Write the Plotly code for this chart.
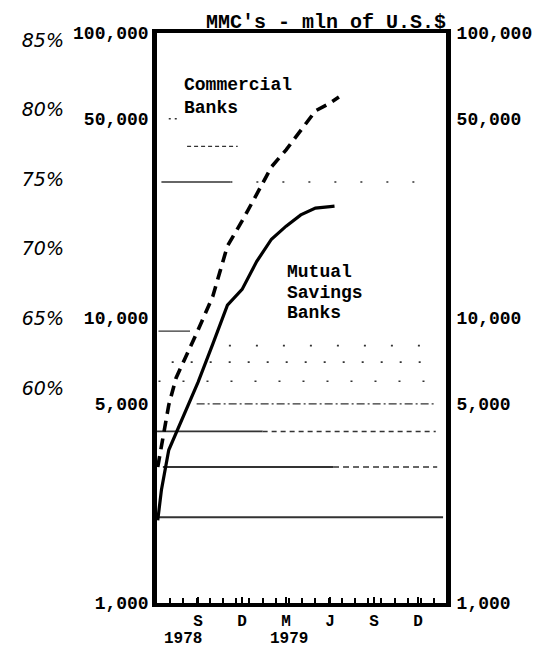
import numpy as np
import plotly.graph_objects as go

# ---- data (months counted from Jan 1978 = 0; Sep 1978 = 8) ----
month_cb = [5.25, 5.5, 6, 6.5, 7, 7.5, 8, 9, 10, 11, 12, 13, 14, 15, 16, 17, 17.6]
commercial_banks = [3000, 3520, 4950, 6160, 7070, 7980, 9080, 11900, 17900, 21900,
                    27200, 33900, 38900, 45300, 53300, 56800, 59600]

month_msb = [5.25, 5.5, 6, 6.5, 7, 7.5, 8, 9, 10, 11, 12, 13, 14, 15, 16, 17, 17.3]
mutual_savings = [1950, 2490, 3440, 3950, 4530, 5240, 5960, 8100, 11100, 12600,
                  15800, 18900, 21000, 23000, 24300, 24600, 24700]

y_tick_vals = [1000, 5000, 10000, 50000, 100000]
y_tick_text = ["1,000", "5,000", "10,000", "50,000", "100,000"]

pct_tick_vals = [60, 65, 70, 75, 80, 85]
pct_tick_text = ["60%", "65%", "70%", "75%", "80%", "85%"]

x_tick_vals = [8, 11, 14, 17, 20, 23]
x_tick_text = ["S", "D", "M", "J", "S", "D"]

year_pos = [7.0, 14.2]
year_text = ["1978", "1979"]

# faint remnants of log grid lines visible in the scan
grid_values = [2000, 3000, 3000, 4000, 4000, 5000, 6000, 7000, 8000, 9000,
               30000, 30000, 40000, 50000]
grid_start = [5.2, 5.6, 17.2, 5.2, 12.4, 7.9, 5.3, 6.2, 10.1, 5.3, 5.5, 10.2, 7.25, 6.0]
grid_end = [24.7, 17.2, 24.3, 12.4, 24.2, 24.2, 24.2, 23.6, 24.2, 7.45, 10.2, 24.2, 10.7, 6.8]

# ---- styles ----
MONO = "Liberation Mono"
grid_styles = [
    dict(width=2.0, dash="solid"),
    dict(width=1.8, dash="solid"),
    dict(width=1.5, dash="6px,4px"),
    dict(width=1.8, dash="solid"),
    dict(width=1.5, dash="5px,4px"),
    dict(width=1.3, dash="8px,3px,2px,3px"),
    dict(width=1.6, dash="2px,22px"),
    dict(width=1.6, dash="2px,17px"),
    dict(width=1.6, dash="2px,25px"),
    dict(width=1.2, dash="solid"),
    dict(width=1.5, dash="solid"),
    dict(width=1.6, dash="2px,24px"),
    dict(width=1.1, dash="4px,3px"),
    dict(width=1.5, dash="2px,4px"),
]

fig = go.Figure()

for v, x0, x1, st in zip(grid_values, grid_start, grid_end, grid_styles):
    fig.add_trace(go.Scatter(x=[x0, x1], y=[v, v], mode="lines",
                             line=dict(color="#333333", **st),
                             hoverinfo="skip", showlegend=False))

fig.add_trace(go.Scatter(x=month_cb, y=commercial_banks, mode="lines",
                         name="Commercial Banks",
                         line=dict(color="black", width=3.6, dash="11px,7px")))
fig.add_trace(go.Scatter(x=month_msb, y=mutual_savings, mode="lines",
                         name="Mutual Savings Banks",
                         line=dict(color="black", width=3.2)))

# invisible helpers so the secondary axes are drawn
fig.add_trace(go.Scatter(x=[month_cb[0]] * len(y_tick_vals), y=y_tick_vals, yaxis="y2",
                         mode="markers", marker=dict(opacity=0), hoverinfo="skip",
                         showlegend=False))
fig.add_trace(go.Scatter(x=[month_cb[0]] * len(pct_tick_vals), y=pct_tick_vals, yaxis="y3",
                         mode="markers", marker=dict(opacity=0), hoverinfo="skip",
                         showlegend=False))

tick_font = dict(family=MONO, size=18, color="black", weight="bold")

# page has an 8px body margin, so the figure is 8px smaller than the window
fig.update_layout(
    width=536, height=648,
    margin=dict(l=5, r=98, t=25, b=53),
    paper_bgcolor="white", plot_bgcolor="white",
    showlegend=False,
    xaxis=dict(domain=[0.3326, 1], range=[5.2, 24.9], tickvals=x_tick_vals,
               ticktext=x_tick_text, ticks="inside", ticklen=6, tickwidth=1.5,
               tickcolor="black", showgrid=False, zeroline=False,
               showline=True, linewidth=3.5, linecolor="black", mirror=True,
               tickfont=dict(family=MONO, size=16, color="black", weight="bold"),
               minor=dict(ticks="inside", ticklen=5, tickwidth=1.5, tickcolor="black",
                          tick0=5.2, dtick=0.9, showgrid=False)),
    yaxis=dict(type="log", range=[3, 5], tickvals=y_tick_vals, ticktext=y_tick_text,
               ticks="", showgrid=False, zeroline=False, showline=True,
               linewidth=4.5, linecolor="black", mirror=True, tickfont=tick_font),
    yaxis2=dict(type="log", range=[3, 5], overlaying="y", side="right", anchor="x",
                tickvals=y_tick_vals, ticktext=y_tick_text, ticks="outside", ticklen=6,
                tickcolor="rgba(0,0,0,0)", showgrid=False,
                zeroline=False, showline=False, tickfont=tick_font),
    yaxis3=dict(range=[44.555, 85.503], overlaying="y", anchor="free", position=0.1178,
                side="left", tickvals=pct_tick_vals, ticktext=pct_tick_text, ticks="",
                showgrid=False, zeroline=False, showline=False,
                tickfont=dict(family="DejaVu Sans", size=19, color="black", style="italic")),
)

label_font = dict(family=MONO, size=18, color="black", weight="bold")
annotations = [
    dict(text="MMC's - mln of U.S.$", xref="paper", yref="paper", x=0.7229, y=1,
         xanchor="center", yanchor="bottom", yshift=-3, showarrow=False,
         font=dict(family=MONO, size=20, color="black", weight="bold")),
    dict(text="Commercial<br>Banks", xref="x", yref="y", x=6.91, y=np.log10(59800),
         xanchor="left", yanchor="middle", align="left", showarrow=False, font=label_font),
    dict(text="Mutual", xref="x", yref="y", x=13.93, y=np.log10(14490),
         xanchor="left", yanchor="middle", showarrow=False, font=label_font),
    dict(text="Savings", xref="x", yref="y", x=13.93, y=np.log10(12240),
         xanchor="left", yanchor="middle", showarrow=False, font=label_font),
    dict(text="Banks", xref="x", yref="y", x=13.93, y=np.log10(10410),
         xanchor="left", yanchor="middle", showarrow=False, font=label_font),
]
for xp, t in zip(year_pos, year_text):
    annotations.append(dict(text=t, xref="x", yref="paper", x=xp, y=-0.063,
                            xanchor="center", yanchor="middle", showarrow=False,
                            font=dict(family=MONO, size=16, color="black", weight="bold")))
fig.update_layout(annotations=annotations)

fig.write_html("out.html")
